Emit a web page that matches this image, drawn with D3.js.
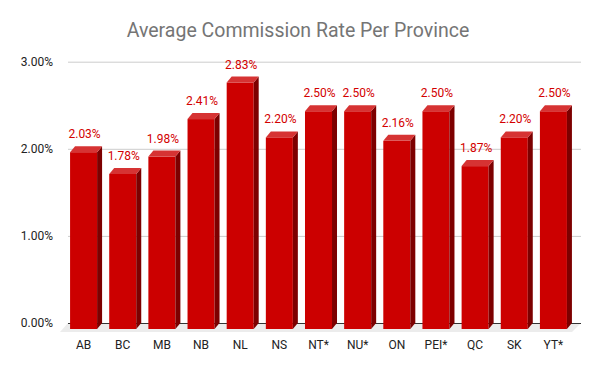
<!DOCTYPE html>
<head>
  <meta charset="utf-8">
  <script src="https://d3js.org/d3.v7.min.js"></script>
  <style>
    body { margin:0; background:#fff; }
    text { font-family: Roboto, Arial, sans-serif; }
  </style>
</head>

<body>
  <script>
    var width = 600;
    var height = 371;

    var provinces = ["AB", "BC", "MB", "NB", "NL", "NS", "NT*", "NU*", "ON", "PEI*", "QC", "SK", "YT*"];
    var rates = [0.0203, 0.0178, 0.0198, 0.0241, 0.0283, 0.0220, 0.0250, 0.0250, 0.0216, 0.0250, 0.0187, 0.0220, 0.0250];
    var yTicks = [0, 0.01, 0.02, 0.03];

    // depth of the fake 3d
    var dx = 5, dy = 6;

    var svg = d3.select("body")
      .append("svg")
      .attr("width", width)
      .attr("height", height);

    var x = d3.scaleBand()
      .domain(provinces)
      .range([64, 573])
      .paddingInner(0.31)
      .paddingOuter(0.155);

    var y = d3.scaleLinear()
      .domain([0, 0.03])
      .range([323, 61.7]);

    var fmt = d3.format(".2%");

    svg.append("text")
      .attr("x", 298)
      .attr("y", 37)
      .attr("text-anchor", "middle")
      .style("font-size", "19.5px")
      .style("fill", "#757575")
      .text("Average Commission Rate Per Province");

    // floor
    var x0 = 68, x1 = 581;
    svg.append("polygon")
      .attr("points", [[x0, y(0)], [x1, y(0)], [x1 - 9, y(0) + 9], [x0 - 8, y(0) + 9]].join(" "))
      .style("fill", "#ececec");

    var yAxis = svg.append("g")
      .attr("transform", "translate(" + x0 + ",0)")
      .call(d3.axisLeft(y).tickValues(yTicks).tickFormat(fmt)
        .tickSize(-(x1 - x0)).tickPadding(15));
    yAxis.select(".domain").remove();
    yAxis.selectAll("line")
      .style("stroke", function(d) { return d === 0 ? "#333" : "#ccc"; });
    yAxis.selectAll("text")
      .style("font-size", "12px")
      .style("fill", "#222");

    var bars = svg.selectAll(".bar")
      .data(provinces)
      .enter()
      .append("g")
      .classed("bar", true);

    var w = x.bandwidth();

    bars.append("rect")
      .attr("x", function(d) { return x(d); })
      .attr("y", function(d, i) { return y(rates[i]) + dy; })
      .attr("width", w)
      .attr("height", function(d, i) { return y(0) - y(rates[i]); })
      .style("fill", "#cc0000");

    bars.append("polygon")
      .attr("points", function(d, i) {
        var l = x(d), t = y(rates[i]) + dy, b = y(0) + dy;
        return [[l + w, t], [l + w + dx, t - dy], [l + w + dx, b - dy], [l + w, b]].join(" ");
      })
      .style("fill", "#7d0000");

    bars.append("polygon")
      .attr("points", function(d, i) {
        var l = x(d), t = y(rates[i]) + dy;
        return [[l, t], [l + dx, t - dy], [l + w + dx, t - dy], [l + w, t]].join(" ");
      })
      .style("fill", "#d63333");

    bars.append("text")
      .attr("x", function(d) { return x(d) + w / 2 + 1; })
      .attr("y", function(d, i) { return y(rates[i]) - 8; })
      .attr("text-anchor", "middle")
      .style("font-size", "12px")
      .style("fill", "#d30000")
      .text(function(d, i) { return fmt(rates[i]); });

    var xAxis = svg.append("g")
      .attr("transform", "translate(0," + (y(0) + 9) + ")")
      .call(d3.axisBottom(x).tickSize(0).tickPadding(8));
    xAxis.select(".domain").remove();
    xAxis.selectAll("text")
      .style("font-size", "12px")
      .style("fill", "#222");
  </script>
</body>
